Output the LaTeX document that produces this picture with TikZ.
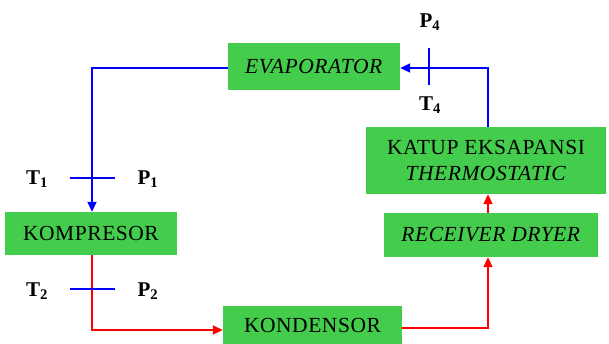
\documentclass[tikz,border=0pt]{standalone}
\usepackage{fontspec}
\setmainfont{Liberation Serif}
\newfontfamily\spacedserif[LetterSpace=2.5]{Liberation Serif}
\usetikzlibrary{arrows.meta}
\definecolor{boxgreen}{RGB}{68,204,76}
\definecolor{lineblue}{RGB}{0,0,255}
\definecolor{linered}{RGB}{255,0,0}
\tikzset{
  unitbox/.style={fill=boxgreen, inner sep=0pt, align=center,
    font=\spacedserif\fontsize{21.5}{25}\selectfont},
  flowblue/.style={draw=lineblue, line width=1.8pt},
  flowred/.style={draw=linered, line width=1.8pt},
  tip/.style={-{Triangle[length=10pt,width=9pt]}},
  probe/.style={draw=lineblue, line width=1.8pt},
  tag/.style={font=\fontsize{21}{24}\selectfont\bfseries, inner sep=0pt}
}
\begin{document}
\begin{tikzpicture}[x=1pt,y=-1pt]
\useasboundingbox (0,0) rectangle (609,343);

% components of the refrigeration cycle
\node[unitbox, minimum width=172pt, minimum height=47pt] (evap) at (314,66.5)
  {\textit{EVAPORATOR}};
\node[unitbox, minimum width=172pt, minimum height=43pt] (komp) at (91,233.5)
  {KOMPRESOR};
\node[unitbox, minimum width=240pt, minimum height=67pt] (katup) at (486,160.5)
  {KATUP EKSAPANSI\\[1pt]\textit{THERMOSTATIC}};
\node[unitbox, minimum width=214pt, minimum height=44pt] (recv) at (491,235)
  {\textit{RECEIVER DRYER}};
\node[unitbox, minimum width=179pt, minimum height=38pt] (kond) at (312.5,325)
  {KONDENSOR};

% routing corners
\coordinate (c1) at (92,68);
\coordinate (c2) at (92,330);
\coordinate (c3) at (488,328);
\coordinate (c4) at (488,68);

% low-pressure side (blue)
\draw[flowblue, tip] (evap.west |- c1) -- (c1) -- (c1 |- komp.north);
\draw[flowblue, tip] (katup.north -| c4) -- (c4) -- (c4 -| evap.east);

% high-pressure side (red)
\draw[flowred, tip] (c2 |- komp.south) -- (c2) -- (c2 -| kond.west);
\draw[flowred, tip] (c3 -| kond.east) -- (c3) -- (c3 |- recv.south);
\draw[flowred, tip] (recv.north -| c3) -- (katup.south -| c3);

% measuring points
\coordinate (m1a) at (70,178);  \coordinate (m1b) at (115,178);
\coordinate (m2a) at (70,289);  \coordinate (m2b) at (115,289);
\coordinate (m4a) at (429,48);  \coordinate (m4b) at (429,85);
\draw[probe] (m1a) -- (m1b);
\draw[probe] (m2a) -- (m2b);
\draw[probe] (m4a) -- (m4b);

\node[tag] (t1) at (37,179) {T\textsubscript{1}};
\node[tag] (p1) at (148,179) {P\textsubscript{1}};
\node[tag] (t2) at (37,291) {T\textsubscript{2}};
\node[tag] (p2) at (148,291) {P\textsubscript{2}};
\node[tag] (p4) at (430,22) {P\textsubscript{4}};
\node[tag] (t4) at (430,105) {T\textsubscript{4}};
\end{tikzpicture}
\end{document}
